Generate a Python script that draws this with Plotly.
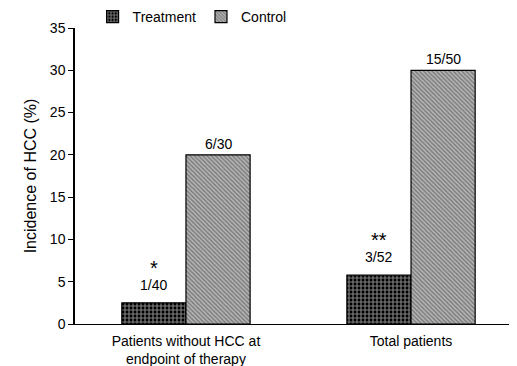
import plotly.graph_objects as go

categories = ["Patients without HCC at<br>endpoint of therapy", "Total patients"]
treatment = [2.5, 5.77]
control = [20.0, 30.0]
treatment_labels = ["1/40", "3/52"]
control_labels = ["6/30", "15/50"]
treatment_stars = ["*", "**"]
yticks = [0, 5, 10, 15, 20, 25, 30, 35]

bargap = 0.43
bw = (1 - bargap) / 2

fig = go.Figure()
fig.add_trace(go.Bar(
    name="Treatment", x=categories, y=treatment,
    marker=dict(color="black", line=dict(color="black", width=1.2),
                pattern=dict(shape="+", fgcolor="white", bgcolor="black", size=4, solidity=0.5)),
))
fig.add_trace(go.Bar(
    name="Control", x=categories, y=control,
    marker=dict(color="#999999", line=dict(color="black", width=1.2),
                pattern=dict(shape="\\", fgcolor="#404040", bgcolor="#b8b8b8", size=3, solidity=0.5)),
))

anns = []
for i, c in enumerate(categories):
    anns.append(dict(x=i - bw / 2, y=treatment[i], xref="x", yref="y", text=treatment_labels[i],
                     showarrow=False, yanchor="bottom", yshift=8, font=dict(size=14)))
    anns.append(dict(x=i - bw / 2, y=treatment[i], xref="x", yref="y", text=treatment_stars[i],
                     showarrow=False, yanchor="bottom", yshift=22, font=dict(size=20)))
    anns.append(dict(x=i + bw / 2, y=control[i], xref="x", yref="y", text=control_labels[i],
                     showarrow=False, yanchor="bottom", yshift=1, font=dict(size=14)))

fig.update_layout(
    width=509, height=358,
    margin=dict(l=67, r=2, t=20, b=42, autoexpand=False),
    paper_bgcolor="white", plot_bgcolor="white",
    font=dict(family="Liberation Sans, Arial, sans-serif", size=14, color="black"),
    barmode="group", bargap=bargap, bargroupgap=0,
    showlegend=True,
    legend=dict(orientation="h", x=0.04, y=1.037, xanchor="left", yanchor="middle",
                font=dict(size=14), itemwidth=30, bgcolor="rgba(0,0,0,0)",
                borderwidth=0, tracegroupgap=0),
    annotations=anns,
    xaxis=dict(range=[-0.493, 1.462], showline=True, linecolor="black", linewidth=1,
               ticks="", tickfont=dict(size=14), showgrid=False, ticklabelstandoff=4),
    yaxis=dict(range=[0, 35], tickvals=yticks, showline=True, linecolor="black", linewidth=1.5,
               ticks="outside", ticklen=5, tickcolor="black", showgrid=False, zeroline=False,
               tickfont=dict(size=14),
               title=dict(text="Incidence of HCC (%)", font=dict(size=16), standoff=9)),
)
fig.write_html("out.html")
